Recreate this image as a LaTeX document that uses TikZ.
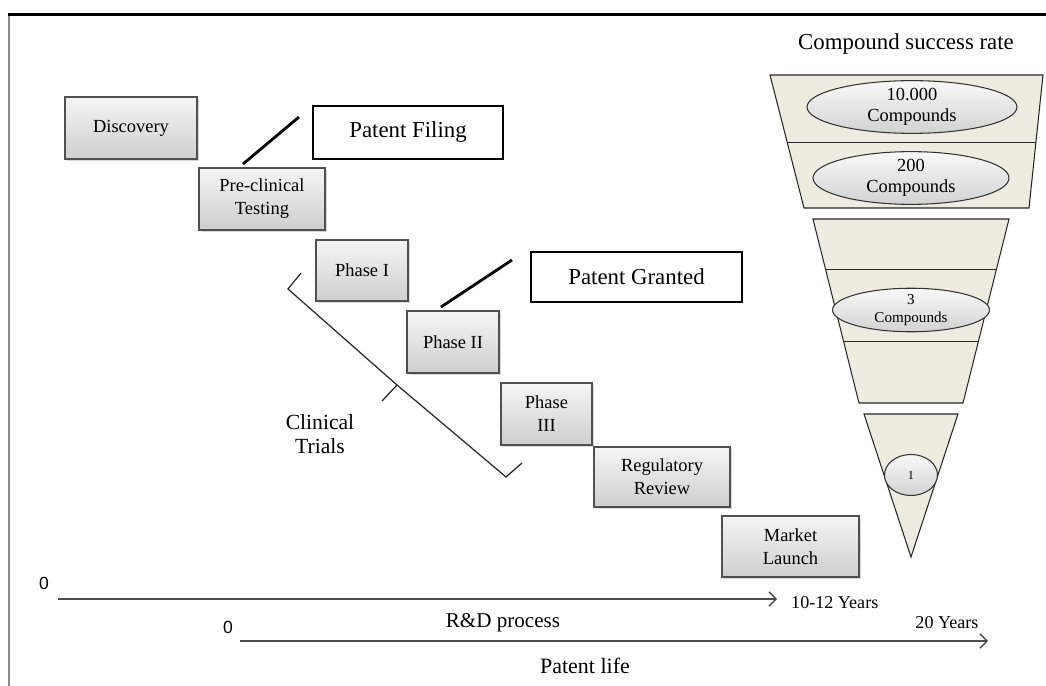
\documentclass[tikz,border=0pt]{standalone}
\usepackage{fontspec}
\setmainfont{Liberation Serif}
\newfontfamily\axisfont{Liberation Sans}
\usepackage{tikz}
\usetikzlibrary{shapes.geometric,shadows,calc,arrows.meta}

\definecolor{funnelfill}{RGB}{238,236,225}
\definecolor{boxedge}{RGB}{80,80,80}

\tikzset{
	stage/.style={draw=boxedge, line width=0.9pt, top color=gray!8, bottom color=gray!38,
		drop shadow={shadow xshift=1.2pt, shadow yshift=-1.2pt, opacity=.3},
		align=center, inner sep=0pt, font=\fontsize{10.5}{13}\selectfont},
	patent/.style={draw=black, line width=1.6pt, fill=white, inner sep=0pt,
		font=\fontsize{13}{15}\selectfont},
	count/.style={ellipse, draw=black!80, line width=0.6pt, top color=gray!5, bottom color=gray!35,
		align=center, inner sep=0pt, font=\fontsize{10.5}{12}\selectfont},
	funnel/.style={fill=funnelfill, draw=black!85, line width=0.6pt},
	axis/.style={-{Straight Barb[length=4pt,width=8pt]}, draw=black!70, line width=0.8pt},
	lbl/.style={font=\fontsize{10.3}{12}\selectfont}
}

\begin{document}
\begin{tikzpicture}[x=0.02cm, y=-0.02cm]
	\useasboundingbox (0,0) rectangle (1046,686);

	% frame
	\draw[black!45, line width=0.8pt] (9,15) -- (9,686);
	\draw[black, line width=2.2pt] (8,14.5) -- (1046,14.5);

	% process steps
	\foreach \nm/\x/\y/\w/\h/\txt in {
		disc/131/128/2.64/1.24/Discovery,
		pre/262/199/2.52/1.24/{Pre-clinical\\Testing},
		ph1/362/270.5/1.84/1.22/Phase I,
		ph2/453/342/1.84/1.24/Phase II,
		ph3/546.5/414/1.82/1.24/{Phase\\III},
		rev/662/477/2.72/1.20/{Regulatory\\Review},
		mkt/790.5/546.5/2.74/1.22/{Market\\Launch}}
		\node[stage, minimum width=\w cm, minimum height=\h cm] (\nm) at (\x,\y) {\txt};

	% patent milestones
	\node[patent, minimum width=3.8cm, minimum height=1.06cm] (filing) at (408,132.5) {Patent Filing};
	\node[patent, minimum width=4.22cm, minimum height=1.0cm] (granted) at (636.5,277) {Patent Granted};

	\coordinate (f1) at (243,164);
	\coordinate (f2) at (299,117);
	\coordinate (g1) at (441,307);
	\coordinate (g2) at (512,260);
	\draw[line width=1.6pt] (f1) -- (f2);
	\draw[line width=1.6pt] (g1) -- (g2);

	% clinical trials brace
	\coordinate (b1) at (301,273);
	\coordinate (b2) at (288,289);
	\coordinate (bm) at (397,385);
	\coordinate (bt) at (382,401);
	\coordinate (b3) at (506,477);
	\coordinate (b4) at (522,463);
	\draw[black!85, line width=0.7pt] (b1) -- (b2) -- (bm) -- (b3) -- (b4);
	\draw[black!85, line width=0.7pt] (bm) -- (bt);
	\node[align=center, font=\fontsize{12.3}{14}\selectfont] (trials) at (320,434) {Clinical\\Trials};

	% funnel
	\coordinate (A) at (770,75);
	\coordinate (B) at (1043,75);
	\coordinate (C) at (1029,208);
	\coordinate (D) at (804,208);
	\coordinate (E) at (813,219);
	\coordinate (F) at (1009,219);
	\coordinate (G) at (963,403);
	\coordinate (H) at (859,403);
	\coordinate (P) at (864,414);
	\coordinate (Q) at (958,414);
	\coordinate (R) at (911,557); % tip

	\filldraw[funnel] (A)--(B)--(C)--(D)--cycle;
	\filldraw[funnel] (E)--(F)--(G)--(H)--cycle;
	\filldraw[funnel] (P)--(Q)--(R)--cycle;
	\draw[funnel] ($(A)!0.511!(D)$) -- ($(B)!0.511!(C)$);
	\foreach \t in {0.277,0.668}
		\draw[funnel] ($(E)!\t!(H)$) -- ($(F)!\t!(G)$);

	\node[font=\fontsize{13}{15}\selectfont] (title) at (906,44) {Compound success rate};

	\node[count, minimum width=4.2cm, minimum height=0.78cm] (c10k) at (912,107) {10.000\\Compounds};
	\node[count, minimum width=3.92cm, minimum height=0.82cm] (c200) at (911,178) {200\\Compounds};
	\node[count, minimum width=3.14cm, minimum height=0.74cm, font=\fontsize{8.6}{10}\selectfont] (c3) at (911,310) {3\\Compounds};
	\node[count, minimum width=1.06cm, minimum height=0.82cm, font=\fontsize{7}{8}\selectfont] (c1) at (911,475) {1};

	% time axes
	\coordinate (rd0) at (58,599);
	\coordinate (rd1) at (777,599);
	\coordinate (pl0) at (240,641);
	\coordinate (pl1) at (988,641);
	\draw[axis] (rd0) -- (rd1);
	\draw[axis] (pl0) -- (pl1);

	\node[font=\axisfont\fontsize{10}{12}\selectfont] (zero1) at (44,583) {0};
	\node[font=\axisfont\fontsize{10}{12}\selectfont] (zero2) at (228,627) {0};
	\node[lbl, anchor=west] (rdend) at (785,603) {10-12 Years};
	\node[lbl] (plend) at (947,623) {20 Years};
	\node[font=\fontsize{12}{14}\selectfont] (rdname) at (503,623) {R\&D process};
	\node[font=\fontsize{12.5}{14}\selectfont] (plname) at (585,666) {Patent life};
\end{tikzpicture}
\end{document}
